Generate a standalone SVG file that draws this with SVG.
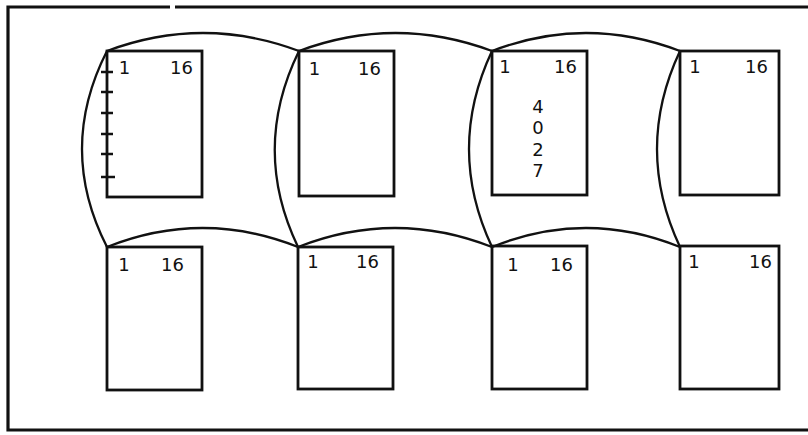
<svg xmlns="http://www.w3.org/2000/svg" width="808" height="435" viewBox="0 0 808 435">
<style>
.chip{fill:none;stroke:#111;stroke-width:2.8}
.arc{fill:none;stroke:#111;stroke-width:2.3}
.bd{fill:none;stroke:#111;stroke-width:3.2}
.tk{stroke:#111;stroke-width:2.6}
text{font-family:"DejaVu Sans","Liberation Sans",sans-serif;font-size:18px;fill:#111}
.m{text-anchor:middle}
.e{text-anchor:end}
</style>
<rect width="808" height="435" fill="#fff"/>
<path class="bd" d="M8,7 H170 M175,7 H808 M8,5.5 V430 H808"/>
<g id="connectors">
<path class="arc" d="M107,51 Q203,15 299,51"/>
<path class="arc" d="M299,51 Q395.5,15 492,51"/>
<path class="arc" d="M492,51 Q586,15 680,51"/>
<path class="arc" d="M107,247 Q202.5,209 298,247"/>
<path class="arc" d="M298,247 Q395,209 492,247"/>
<path class="arc" d="M492,247 Q586,209 680,247"/>
<path class="arc" d="M107,51 Q57,149 107,247"/>
<path class="arc" d="M299,51 Q251,149 298,247"/>
<path class="arc" d="M492,51 Q446,149 492,247"/>
<path class="arc" d="M680,51 Q634,149 680,247"/>
</g>
<g id="chip1">
<rect class="chip" x="107" y="51" width="95" height="146"/>
<path class="tk" d="M101,72 H113 M101,92 H113 M101,113 H113 M101,134 H113 M101,154 H113 M101,177 H115"/>
<text class="m" x="124.5" y="74">1</text><text class="e" x="193" y="74">16</text>
</g>
<g id="chip2">
<rect class="chip" x="299" y="51" width="95" height="145"/>
<text class="m" x="314.5" y="75">1</text><text class="e" x="381" y="75">16</text>
</g>
<g id="chip3">
<rect class="chip" x="492" y="51" width="95" height="144"/>
<text class="m" x="505" y="73">1</text><text class="e" x="577" y="73">16</text>
<text class="m" x="538" y="113">4</text>
<text class="m" x="538" y="134">0</text>
<text class="m" x="538" y="156">2</text>
<text class="m" x="538" y="177">7</text>
</g>
<g id="chip4">
<rect class="chip" x="680" y="51" width="99" height="144"/>
<text class="m" x="695" y="73">1</text><text class="e" x="768" y="73">16</text>
</g>
<g id="chip5">
<rect class="chip" x="107" y="247" width="95" height="143"/>
<text class="m" x="124" y="271">1</text><text class="e" x="184" y="271">16</text>
</g>
<g id="chip6">
<rect class="chip" x="298" y="247" width="95" height="142"/>
<text class="m" x="313" y="268">1</text><text class="e" x="379" y="268">16</text>
</g>
<g id="chip7">
<rect class="chip" x="492" y="246" width="95" height="143"/>
<text class="m" x="513" y="271">1</text><text class="e" x="573" y="271">16</text>
</g>
<g id="chip8">
<rect class="chip" x="680" y="246" width="99" height="143"/>
<text class="m" x="694" y="268">1</text><text class="e" x="772" y="268">16</text>
</g>
</svg>
